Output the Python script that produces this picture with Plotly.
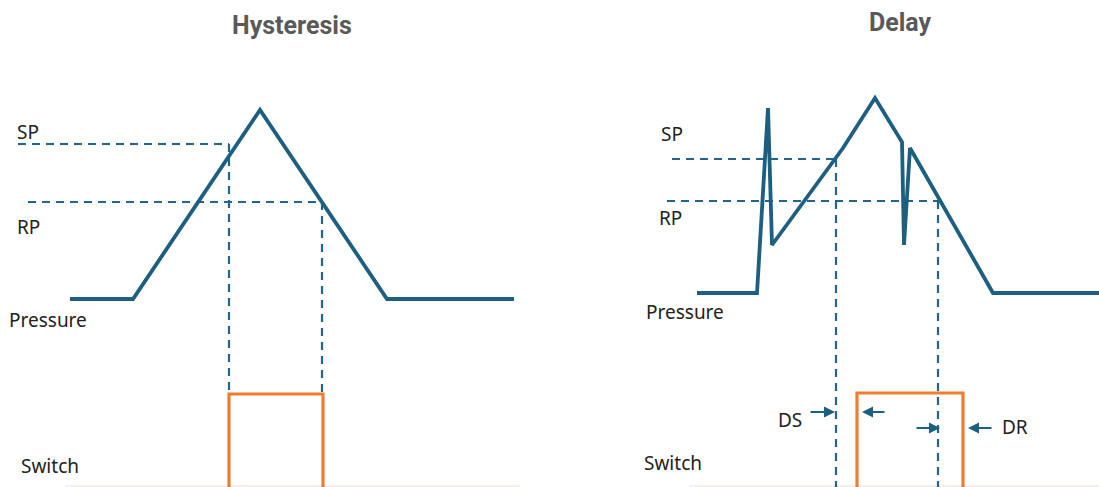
import plotly.graph_objects as go

# ---- data (time units ~ horizontal position, level units ~ height) ----
# Hysteresis panel
hyst_time = [70, 133, 260, 387, 514]
hyst_pressure = [188, 188, 377, 188, 188]
hyst_sp_level = 343
hyst_rp_level = 285
hyst_sp_span = [18, 229]
hyst_rp_span = [28, 322]
hyst_switch_time = [229, 229, 323, 323]
hyst_switch_state = [-10, 93, 93, -10]

# Delay panel
delay_time = [697, 757, 768, 772, 843, 875, 902, 904, 910, 993, 1110]
delay_pressure = [194, 194, 379, 242, 339, 389, 345, 242, 339, 194, 194]
delay_sp_level = 328
delay_rp_level = 286
delay_sp_span = [672, 836]
delay_rp_span = [667, 938]
delay_switch_time = [857, 857, 963, 963]
delay_switch_state = [-10, 94, 94, -10]

BLUE = "#1D5F80"
DASH_BLUE = "#23668A"
ORANGE = "#ED7D31"
DASH = "8px,6px"
DW = 2.2

fig = go.Figure()

def line(x, y, color=BLUE, width=3.8, dash=None):
    fig.add_trace(go.Scatter(x=x, y=y, mode="lines", hoverinfo="skip",
                             line=dict(color=color, width=width, dash=dash,
                                       shape="linear"),
                             showlegend=False))

# faint baseline
line([66, 520], [1, 1], color="#EEEAE6", width=1.5)
line([690, 1099], [1, 1], color="#EEEAE6", width=1.5)

# Hysteresis dashed guides
line(hyst_sp_span, [hyst_sp_level] * 2, color=DASH_BLUE, dash=DASH, width=DW)
line(hyst_rp_span, [hyst_rp_level] * 2, color=DASH_BLUE, dash=DASH, width=DW)
line([hyst_sp_span[1]] * 2, [hyst_sp_level, hyst_switch_state[1]], color=DASH_BLUE, dash=DASH, width=DW)
line([hyst_rp_span[1]] * 2, [hyst_rp_level, hyst_switch_state[1]], color=DASH_BLUE, dash=DASH, width=DW)
# Hysteresis pressure & switch
line(hyst_time, hyst_pressure)
line(hyst_switch_time, hyst_switch_state, color=ORANGE, width=3.2)

# Delay dashed guides
line(delay_sp_span, [delay_sp_level] * 2, color=DASH_BLUE, dash=DASH, width=DW)
line(delay_rp_span, [delay_rp_level] * 2, color=DASH_BLUE, dash=DASH, width=DW)
line([delay_sp_span[1]] * 2, [delay_sp_level, -10], color=DASH_BLUE, dash=DASH, width=DW)
line([delay_rp_span[1]] * 2, [delay_rp_level, -10], color=DASH_BLUE, dash=DASH, width=DW)
# Delay pressure & switch
line(delay_time, delay_pressure)
line(delay_switch_time, delay_switch_state, color=ORANGE, width=3.2)

LABEL_FONT = dict(family="Noto Sans", size=19, color="#222222")
TITLE_FONT = dict(family="Roboto", size=25, color="#595959")

def label(x, y, text, xanchor="left", font=LABEL_FONT):
    fig.add_annotation(x=x, y=y, text=text, showarrow=False, xanchor=xanchor,
                       yanchor="middle", font=font)

label(292, 462, "<b>Hysteresis</b>", xanchor="center", font=TITLE_FONT)
label(900, 465, "<b>Delay</b>", xanchor="center", font=TITLE_FONT)

label(15, 355, "SP")
label(15, 260, "RP")
label(7, 167, "Pressure")
label(19, 21, "Switch")

label(659, 353, "SP")
label(657, 269, "RP")
label(644, 175, "Pressure")
label(642, 24, "Switch")
label(776, 67, "DS")
label(1000, 60, "DR")

# delay arrows: (tip x, tip y, tail offset px)
arrow_tips_x = [835, 862, 940, 968]
arrow_tips_y = [75, 75, 59, 59]
arrow_tail_dx = [-26, 24, -25, 25]
for tx, ty, dx in zip(arrow_tips_x, arrow_tips_y, arrow_tail_dx):
    fig.add_annotation(x=tx, y=ty, ax=dx, ay=0, text="", showarrow=True,
                       arrowhead=2, arrowsize=1.1, arrowwidth=2,
                       arrowcolor=BLUE, standoff=0)

fig.update_xaxes(range=[0, 1099], visible=False, fixedrange=True)
fig.update_yaxes(range=[0, 487], visible=False, fixedrange=True)
fig.update_layout(width=1099, height=487, margin=dict(l=0, r=0, t=0, b=0),
                  plot_bgcolor="white", paper_bgcolor="white")

fig.write_html("out.html", config={"displayModeBar": False},
               post_script="document.body.style.margin='0';")
